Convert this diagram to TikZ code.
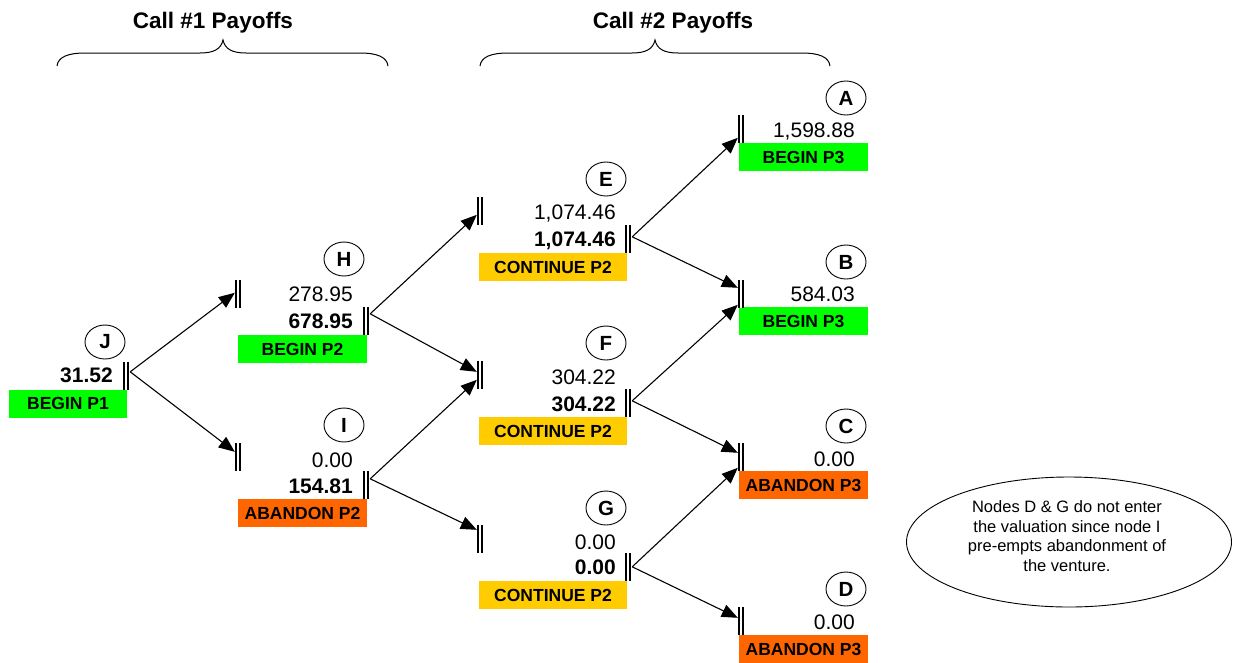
\documentclass[tikz,border=0pt]{standalone}
\usepackage{fontspec}
\setmainfont{Liberation Sans}
\usetikzlibrary{arrows.meta,shapes.geometric,calc}
\definecolor{pgreen}{RGB}{0,255,0}
\definecolor{porange}{RGB}{255,102,0}
\definecolor{pyellow}{RGB}{255,204,0}
\tikzset{
  state/.style={ellipse, draw, line width=0.9pt, minimum width=40pt, minimum height=34pt,
    inner sep=0pt, font=\fontsize{20.5}{24}\selectfont\bfseries},
  val/.style={anchor=base east, inner sep=0pt, font=\fontsize{21}{25}\selectfont},
  bval/.style={anchor=base east, inner sep=0pt, font=\fontsize{21}{25}\selectfont\bfseries},
  decision/.style={minimum height=28pt, inner sep=0pt, font=\fontsize{17.5}{21}\selectfont\bfseries},
  beginbox/.style={decision, fill=pgreen},
  contbox/.style={decision, fill=pyellow},
  abandonbox/.style={decision, fill=porange},
  gate/.style={minimum width=6pt, minimum height=28pt, inner sep=0pt},
  gateline/.style={line width=1.8pt, double, double distance=2.2pt},
  arr/.style={line width=1.1pt, -{Triangle[length=16pt,width=13pt]}},
  brace/.style={line width=1pt},
  title/.style={anchor=base, inner sep=0pt, font=\fontsize{22.5}{27}\selectfont\bfseries},
}
\begin{document}
\begin{tikzpicture}[x=1pt, y=-1pt]
\useasboundingbox (0,0) rectangle (1239,662);

% column headings with braces
\node[title] (call1) at (213,28) {Call \#1 Payoffs};
\node[title] (call2) at (673,28) {Call \#2 Payoffs};
\draw[brace] (57,66) .. controls (58,57) and (68,53) .. (85,53) -- (200,53)
  .. controls (214,53) and (221,49) .. (223,40) .. controls (225,49) and (232,53) .. (246,53)
  -- (360,53) .. controls (377,53) and (387,57) .. (388,66);
\draw[brace] (480,66) .. controls (481,57) and (491,53) .. (508,53) -- (632,53)
  .. controls (646,53) and (653,49) .. (655,40) .. controls (657,49) and (664,53) .. (678,53)
  -- (802,53) .. controls (819,53) and (829,57) .. (830,66);

% decision boxes
\node[beginbox, minimum width=118pt] (Jbox) at (68,403.5) {BEGIN P1};
\node[beginbox, minimum width=129pt] (Hbox) at (302.5,349) {BEGIN P2};
\node[abandonbox, minimum width=129pt] (Ibox) at (302.5,513) {ABANDON P2};
\node[contbox, minimum width=148pt] (Ebox) at (553,267) {CONTINUE P2};
\node[contbox, minimum width=148pt] (Fbox) at (553,431) {CONTINUE P2};
\node[contbox, minimum width=148pt] (Gbox) at (553,595) {CONTINUE P2};
\node[beginbox, minimum width=129pt] (Abox) at (803.5,157) {BEGIN P3};
\node[beginbox, minimum width=129pt] (Bbox) at (803.5,321) {BEGIN P3};
\node[abandonbox, minimum width=129pt] (Cbox) at (803.5,485) {ABANDON P3};
\node[abandonbox, minimum width=129pt] (Dbox) at (803.5,649) {ABANDON P3};

% state labels
\node[state] (J) at (105,342) {J};
\node[state] (H) at (344,259) {H};
\node[state] (I) at (344,425) {I};
\node[state] (E) at (606,179) {E};
\node[state] (F) at (606,343) {F};
\node[state] (G) at (606,508) {G};
\node[state] (A) at (846,98) {A};
\node[state] (B) at (846,262) {B};
\node[state] (C) at (846,426) {C};
\node[state] (D) at (846,589) {D};

% values
\node[bval] (Jv) at (113,382.5) {31.52};
\node[val]  (Hv1) at (353,301.5) {278.95};
\node[bval] (Hv2) at (353,328.5) {678.95};
\node[val]  (Iv1) at (353,467.5) {0.00};
\node[bval] (Iv2) at (353,493.5) {154.81};
\node[val]  (Ev1) at (616,219.5) {1,074.46};
\node[bval] (Ev2) at (616,246.5) {1,074.46};
\node[val]  (Fv1) at (616,384.5) {304.22};
\node[bval] (Fv2) at (616,411.5) {304.22};
\node[val]  (Gv1) at (616,549.5) {0.00};
\node[bval] (Gv2) at (616,574.5) {0.00};
\node[val]  (Av) at (855,137.5) {1,598.88};
\node[val]  (Bv) at (855,301.5) {584.03};
\node[val]  (Cv) at (855,466.5) {0.00};
\node[val]  (Dv) at (855,629.5) {0.00};

% gates (double bars)
\node[gate] (Jb)  at (126,376) {};
\node[gate] (Hin) at (238,294) {};
\node[gate] (Hb)  at (366,321) {};
\node[gate] (Iin) at (238,457) {};
\node[gate] (Ib)  at (366,485) {};
\node[gate] (Ein) at (480,211) {};
\node[gate] (Eb)  at (628,239) {};
\node[gate] (Fin) at (480,375) {};
\node[gate] (Fb)  at (628,403) {};
\node[gate] (Gin) at (480,539) {};
\node[gate] (Gb)  at (628,567) {};
\node[gate] (Ab)  at (741,129) {};
\node[gate] (Bb)  at (741,294) {};
\node[gate] (Cb)  at (741,457) {};
\node[gate] (Db)  at (741,621) {};
\foreach \g in {Jb,Hin,Hb,Iin,Ib,Ein,Eb,Fin,Fb,Gin,Gb,Ab,Bb,Cb,Db}
  \draw[gateline] (\g.north) -- (\g.south);

% branches
\draw[arr] ($(Jb.north east)+(1,10)$) -- ($(Hin.north west)+(0,13)$);
\draw[arr] ($(Jb.north east)+(1,10)$) -- ($(Iin.north west)+(0,9)$);
\draw[arr] ($(Hb.north east)+(1,7)$) -- ($(Ein.north west)+(0,18)$);
\draw[arr] ($(Hb.north east)+(1,7)$) -- ($(Fin.north west)+(0,11)$);
\draw[arr] ($(Ib.north east)+(1,8)$) -- ($(Fin.north west)+(0,19)$);
\draw[arr] ($(Ib.north east)+(1,8)$) -- ($(Gin.north west)+(0,5)$);
\draw[arr] ($(Eb.north east)+(1,12)$) -- ($(Ab.north west)+(0,23)$);
\draw[arr] ($(Eb.north east)+(1,12)$) -- ($(Bb.north west)+(0,8)$);
\draw[arr] ($(Fb.north east)+(1,12)$) -- ($(Bb.north west)+(0,25)$);
\draw[arr] ($(Fb.north east)+(1,12)$) -- ($(Cb.north west)+(0,10)$);
\draw[arr] ($(Gb.north east)+(1,14)$) -- ($(Cb.north west)+(0,25)$);
\draw[arr] ($(Gb.north east)+(1,14)$) -- ($(Db.north west)+(0,11)$);

% note
\node[ellipse, draw, line width=0.9pt, minimum width=325pt, minimum height=130pt, inner sep=0pt]
  (note) at (1069,542) {};
\node[align=center, inner sep=0pt, font=\fontsize{16.5}{19.5}\selectfont] (notetext) at (1067,536)
  {Nodes D \& G do not enter\\the valuation since node I\\pre-empts abandonment of\\the venture.};
\end{tikzpicture}
\end{document}
